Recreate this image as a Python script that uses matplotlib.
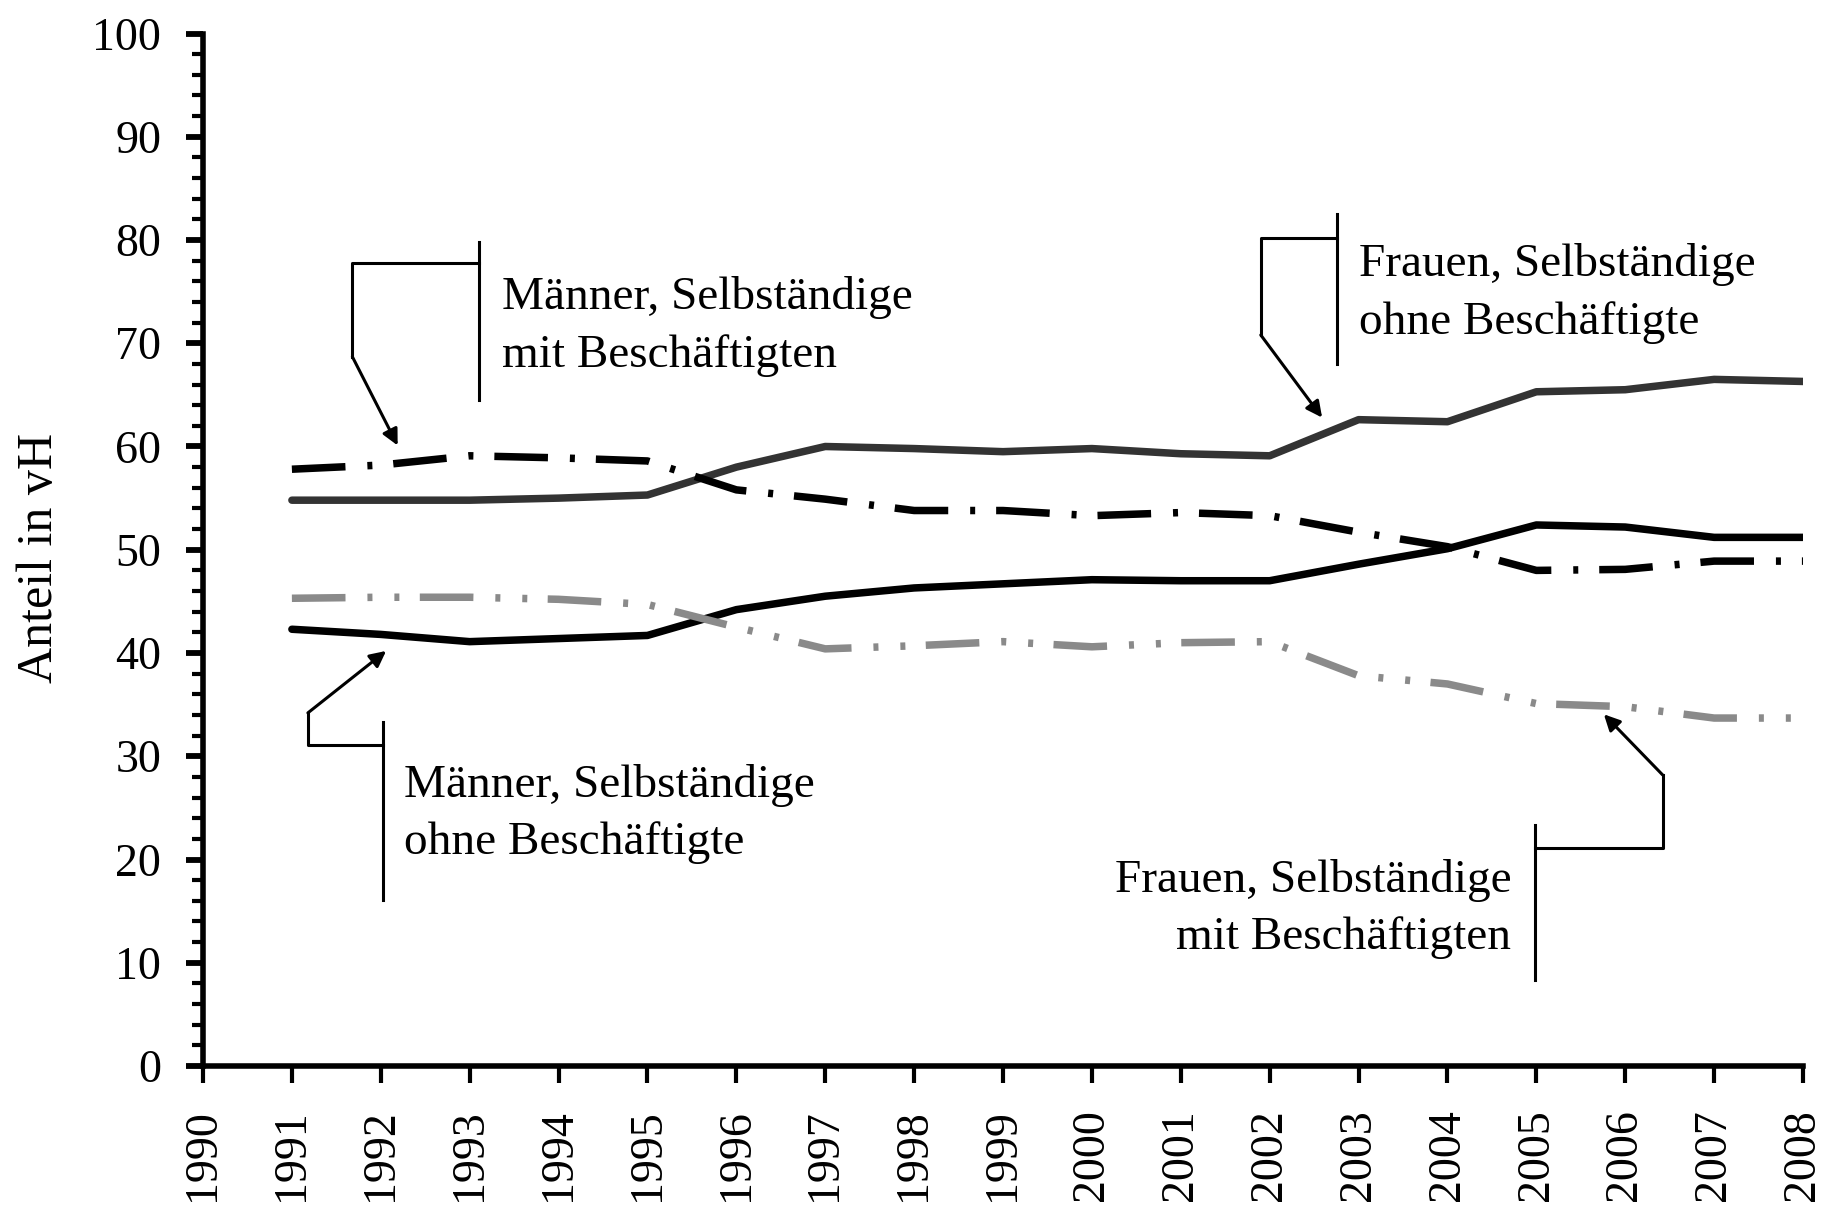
import matplotlib
matplotlib.use("Agg")
import matplotlib.pyplot as plt
from matplotlib.ticker import MultipleLocator

plt.rcParams['font.family'] = ['Liberation Serif', 'DejaVu Serif']
plt.rcParams['lines.scale_dashes'] = False

# data (Anteil in vH)
years = list(range(1991, 2009))
frauen_ohne = [54.8, 54.8, 54.8, 55.0, 55.3, 58.0, 60.0, 59.8, 59.5, 59.8, 59.3, 59.1,
               62.6, 62.4, 65.3, 65.5, 66.5, 66.3]
maenner_mit = [57.8, 58.2, 59.1, 58.9, 58.6, 55.8, 54.9, 53.8, 53.8, 53.3, 53.6, 53.3,
               51.7, 50.3, 48.0, 48.1, 48.9, 48.9]
maenner_ohne = [42.3, 41.8, 41.1, 41.4, 41.7, 44.2, 45.5, 46.3, 46.7, 47.1, 47.0, 47.0,
                48.6, 50.1, 52.4, 52.2, 51.2, 51.2]
frauen_mit = [45.3, 45.4, 45.4, 45.2, 44.7, 42.5, 40.4, 40.7, 41.1, 40.6, 41.0, 41.1,
              37.8, 37.0, 35.1, 34.8, 33.7, 33.7]

year_ticks = list(range(1990, 2009))

# callouts: text lines, text anchor, bracket path, arrow tip
lbl_mm = ["Männer, Selbständige", "mit Beschäftigten"]
lbl_fo = ["Frauen, Selbständige", "ohne Beschäftigte"]
lbl_mo = ["Männer, Selbständige", "ohne Beschäftigte"]
lbl_fm = ["Frauen, Selbständige", "mit Beschäftigten"]

fig = plt.figure(figsize=(18.35, 12.17), dpi=100)
ax = fig.add_axes([203/1835, 1-1066/1217, 1600/1835, (1066-33.5)/1217])

lw = 5.4
ax.plot(years, frauen_ohne, color='#333333', lw=lw, solid_capstyle='round')
ax.plot(years, maenner_ohne, color='black', lw=lw, solid_capstyle='round')
ax.plot(years, maenner_mit, color='black', lw=lw,
        dashes=[38.6, 15.8, 3.6, 15.1], dash_capstyle='butt')
ax.plot(years, frauen_mit, color='#8a8a8a', lw=lw,
        dashes=[38.6, 15.8, 3.6, 15.8, 3.6, 14.7], dash_capstyle='butt')

ax.set_xlim(1990, 2008)
ax.set_ylim(0, 100)
ax.set_xticks(year_ticks)
ax.set_xticklabels([str(y) for y in year_ticks], rotation=90, fontsize=33)
ax.yaxis.set_major_locator(MultipleLocator(10))
ax.yaxis.set_minor_locator(MultipleLocator(2))
ax.tick_params(axis='y', which='major', length=12, width=4.2, labelsize=33, pad=18)
ax.tick_params(axis='y', which='minor', length=8, width=3)
ax.tick_params(axis='x', which='major', length=12, width=3, pad=19)

for s in ['top', 'right']:
    ax.spines[s].set_visible(False)
for s in ['left', 'bottom']:
    ax.spines[s].set_linewidth(4)

fig.text(40/1835, 1-558/1217, "Anteil in vH", rotation=90, fontsize=36,
         ha='center', va='center')

cl = dict(color='black', lw=2.2, clip_on=False)
arr = dict(arrowstyle='-|>', color='black', lw=2.2, mutation_scale=24,
           shrinkA=0, shrinkB=0)

def callout(lines, tx, ty, ha, bar, path, tip):
    ax.plot([bar[0], bar[0]], [bar[1], bar[2]], **cl)
    ax.plot([p[0] for p in path], [p[1] for p in path], **cl)
    ax.annotate("", xy=tip, xytext=path[-1], arrowprops=arr)
    for i, t in enumerate(lines):
        ax.text(tx, ty - i * 5.6, t, fontsize=34, ha=ha, va='baseline')

# Männer mit Beschäftigten
callout(lbl_mm, 1993.36, 73.3, 'left', (1993.11, 79.8, 64.5),
        [(1993.11, 77.8), (1991.68, 77.8), (1991.68, 68.7)], (1992.19, 60.1))
# Frauen ohne Beschäftigte
callout(lbl_fo, 2003.0, 76.5, 'left', (2002.76, 82.5, 68.0),
        [(2002.76, 80.2), (2001.90, 80.2), (2001.90, 70.8)], (2002.59, 62.8))
# Männer ohne Beschäftigte
callout(lbl_mo, 1992.26, 26.1, 'left', (1992.02, 33.3, 16.05),
        [(1992.02, 31.06), (1991.18, 31.06), (1991.18, 34.2)], (1992.06, 40.2))
# Frauen mit Beschäftigten
callout(lbl_fm, 2004.72, 16.9, 'right', (2004.99, 23.3, 8.36),
        [(2004.99, 21.1), (2006.42, 21.1), (2006.42, 28.2)], (2005.76, 34.06))

fig.savefig("out.png", dpi=100)
